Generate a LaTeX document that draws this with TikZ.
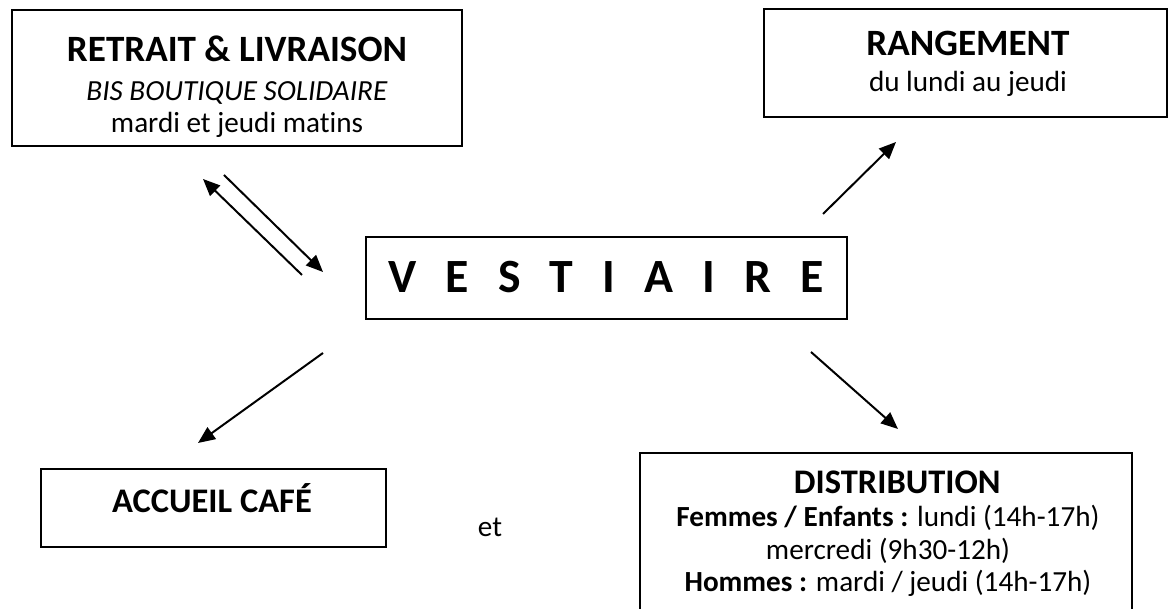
\documentclass[tikz,border=0pt]{standalone}
\usepackage{fontspec}
\setmainfont{Carlito}[Ligatures=NoCommon]
\usetikzlibrary{arrows.meta, positioning}
\newcommand{\lettergap}{\hspace{11pt}}

\begin{document}
\begin{tikzpicture}[x=0.377pt, y=-0.377pt,
    box/.style 2 args={draw, line width=0.75pt, inner sep=0pt,
        minimum width=#1*0.377pt, minimum height=#2*0.377pt},
    txt/.style={anchor=base, align=center, inner sep=0pt,
        font=\fontsize{11}{12.4}\selectfont},
    arr/.style={line width=0.75pt, -{Triangle[length=6.4pt, width=5.4pt]}}]
\useasboundingbox (0,0) rectangle (1171,609);
\clip (0,0) rectangle (1171,609);

% Frames
\node[box={450}{136}] (retrait) at (237,78) {};
\node[box={403}{108}] (rangement) at (965.5,63) {};
\node[box={481}{82}] (vestiaire) at (606.5,278) {};
\node[box={345}{78}] (accueil) at (213.5,508) {};
\node[box={492}{187}] (distribution) at (886,546.5) {};

% Texts (base = last line)
\node[txt] (retraitText) at (237,133)
    {{\fontsize{14}{14}\selectfont\bfseries RETRAIT \& LIVRAISON}\\[2.3pt]
     \textit{BIS BOUTIQUE SOLIDAIRE}\\ mardi et jeudi matins};
\node[txt] (rangementText) at (968,92)
    {{\fontsize{14}{14}\selectfont\bfseries RANGEMENT}\\[1.5pt] du lundi au jeudi};
\node[txt, font=\fontsize{18}{18}\selectfont\bfseries] (vestiaireText) at (606,293)
    {V\lettergap E\lettergap S\lettergap T\lettergap I\lettergap
     A\lettergap I\lettergap R\lettergap E};
\node[txt, font=\fontsize{13}{13}\selectfont\bfseries] (accueilText) at (212,513)
    {ACCUEIL CAFÉ};
\node[txt] (et) at (490,537) {et};
\node[txt] (distributionText) at (888,592)
    {\hspace*{7pt}{\fontsize{13}{13}\selectfont\bfseries DISTRIBUTION}\\
     \textbf{Femmes / Enfants :} lundi (14h-17h)\\
     mercredi (9h30-12h)\\
     \textbf{Hommes :} mardi / jeudi (14h-17h)};

% Arrows
\coordinate (retraitIn) at (203,179);
\coordinate (retraitOut) at (224,175);
\coordinate (vestiaireIn) at (323,272);
\coordinate (vestiaireOut) at (302,275);
\coordinate (toRangement) at (896,142);
\coordinate (fromVestiaireR) at (823,214);
\coordinate (toAccueil) at (198,443);
\coordinate (fromVestiaireL) at (323,353);
\coordinate (toDistribution) at (898,429);
\coordinate (fromVestiaireD) at (811,352);

\draw[arr] (vestiaireOut) -- (retraitIn);
\draw[arr] (retraitOut) -- (vestiaireIn);
\draw[arr] (fromVestiaireR) -- (toRangement);
\draw[arr] (fromVestiaireL) -- (toAccueil);
\draw[arr] (fromVestiaireD) -- (toDistribution);
\end{tikzpicture}
\end{document}
